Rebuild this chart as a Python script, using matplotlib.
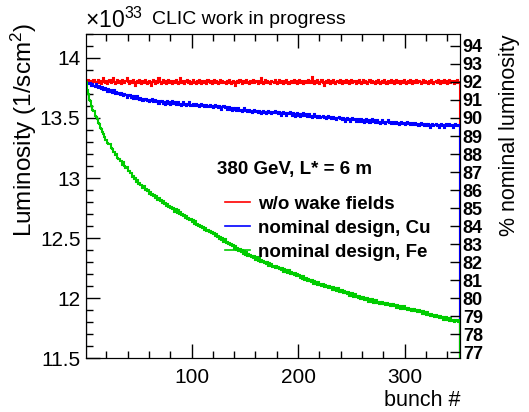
import numpy as np
import matplotlib
matplotlib.use("Agg")
import matplotlib.pyplot as plt

plt.rcParams['font.family'] = ['Liberation Sans', 'DejaVu Sans']
plt.rcParams['mathtext.fontset'] = 'custom'
plt.rcParams['mathtext.rm'] = 'Liberation Sans'
plt.rcParams['mathtext.it'] = 'Liberation Sans:italic'

# --- datos (luminosidad en 1e33 / cm^2 s por bunch)
lumi_wo_wake = [
    13.81, 13.79, 13.82, 13.80, 13.78, 13.81, 13.79, 13.82, 13.80, 13.78,
    13.80, 13.82, 13.79, 13.81, 13.78, 13.80, 13.83, 13.80, 13.79, 13.81,
    13.78, 13.80, 13.82, 13.79, 13.81, 13.83, 13.80, 13.78, 13.80, 13.82,
    13.79, 13.81, 13.80, 13.78, 13.82, 13.80, 13.79, 13.81, 13.83, 13.80,
    13.78, 13.81, 13.79, 13.80, 13.82, 13.79, 13.77, 13.80, 13.81, 13.79,
    13.82, 13.80, 13.78, 13.81, 13.79, 13.82, 13.80, 13.78, 13.80, 13.81,
    13.79, 13.77, 13.80, 13.82, 13.80, 13.78, 13.81, 13.79, 13.83, 13.80,
    13.78, 13.80, 13.82, 13.79, 13.81, 13.78, 13.80, 13.82, 13.79, 13.81,
    13.80, 13.78, 13.81, 13.79, 13.82, 13.80, 13.78, 13.80, 13.83, 13.79,
    13.81, 13.79, 13.78, 13.81, 13.80, 13.82, 13.79, 13.81, 13.78, 13.80,
    13.82, 13.79, 13.80, 13.78, 13.81, 13.79, 13.82, 13.80, 13.78, 13.81,
    13.79, 13.81, 13.80, 13.78, 13.82, 13.80, 13.79, 13.81, 13.78, 13.80,
    13.82, 13.79, 13.81, 13.80, 13.78, 13.80, 13.82, 13.79, 13.81, 13.79,
    13.80, 13.78, 13.81, 13.79, 13.82, 13.80, 13.78, 13.80, 13.81, 13.79,
    13.77, 13.80, 13.81, 13.79, 13.82, 13.80, 13.78, 13.81, 13.79, 13.80,
    13.82, 13.79, 13.80, 13.78, 13.81, 13.79, 13.80, 13.82, 13.79, 13.81,
    13.80, 13.78, 13.81, 13.79, 13.83, 13.80, 13.78, 13.80, 13.82, 13.79,
    13.81, 13.79, 13.80, 13.78, 13.81, 13.80, 13.79, 13.82, 13.80, 13.78,
    13.80, 13.82, 13.79, 13.81, 13.80, 13.78, 13.81, 13.79, 13.82, 13.80,
    13.78, 13.80, 13.81, 13.79, 13.80, 13.82, 13.79, 13.81, 13.78, 13.80,
    13.82, 13.79, 13.81, 13.80, 13.78, 13.81, 13.79, 13.80, 13.82, 13.79,
    13.81, 13.79, 13.84, 13.80, 13.78, 13.81, 13.79, 13.82, 13.80, 13.78,
    13.80, 13.82, 13.79, 13.77, 13.80, 13.81, 13.79, 13.82, 13.80, 13.78,
    13.81, 13.79, 13.82, 13.80, 13.78, 13.80, 13.81, 13.79, 13.82, 13.80,
    13.78, 13.81, 13.79, 13.80, 13.82, 13.79, 13.81, 13.78, 13.80, 13.82,
    13.79, 13.81, 13.80, 13.78, 13.81, 13.79, 13.82, 13.80, 13.78, 13.80,
    13.82, 13.79, 13.81, 13.80, 13.78, 13.80, 13.82, 13.79, 13.81, 13.79,
    13.80, 13.78, 13.81, 13.79, 13.82, 13.80, 13.78, 13.80, 13.81, 13.79,
    13.82, 13.80, 13.78, 13.81, 13.79, 13.80, 13.82, 13.79, 13.81, 13.78,
    13.80, 13.82, 13.79, 13.81, 13.80, 13.78, 13.81, 13.79, 13.82, 13.80,
    13.78, 13.80, 13.81, 13.79, 13.82, 13.80, 13.78, 13.81, 13.79, 13.80,
    13.82, 13.79, 13.81, 13.80, 13.78, 13.80, 13.82, 13.79, 13.81, 13.79,
    13.80, 13.78, 13.81, 13.79, 13.82, 13.80, 13.78, 13.80, 13.81, 13.79,
    13.82, 13.80, 13.78, 13.81, 13.79, 13.80, 13.82, 13.79, 13.81, 13.78,
    13.80, 13.82, 13.79, 13.81, 13.80, 13.78, 13.81, 13.79, 13.82, 13.80, 13.79,
]

lumi_cu = [
    13.80, 13.79, 13.79, 13.78, 13.79, 13.77, 13.78, 13.77, 13.76, 13.78,
    13.76, 13.75, 13.77, 13.75, 13.74, 13.76, 13.73, 13.74, 13.75, 13.73,
    13.72, 13.74, 13.72, 13.73, 13.71, 13.72, 13.73, 13.70, 13.72, 13.71,
    13.70, 13.71, 13.69, 13.71, 13.70, 13.68, 13.70, 13.69, 13.67, 13.69,
    13.68, 13.69, 13.67, 13.68, 13.66, 13.68, 13.67, 13.66, 13.68, 13.66,
    13.65, 13.67, 13.66, 13.64, 13.66, 13.65, 13.66, 13.64, 13.65, 13.63,
    13.65, 13.64, 13.66, 13.63, 13.64, 13.65, 13.63, 13.64, 13.62, 13.64,
    13.63, 13.64, 13.62, 13.63, 13.61, 13.63, 13.64, 13.62, 13.63, 13.61,
    13.62, 13.64, 13.62, 13.63, 13.61, 13.62, 13.63, 13.61, 13.62, 13.60,
    13.62, 13.63, 13.61, 13.62, 13.60, 13.62, 13.61, 13.63, 13.60, 13.61,
    13.62, 13.60, 13.61, 13.62, 13.60, 13.61, 13.59, 13.61, 13.62, 13.60,
    13.61, 13.59, 13.60, 13.61, 13.59, 13.60, 13.61, 13.59, 13.60, 13.58,
    13.60, 13.61, 13.59, 13.60, 13.58, 13.60, 13.59, 13.57, 13.59, 13.60,
    13.58, 13.59, 13.57, 13.58, 13.59, 13.57, 13.58, 13.56, 13.58, 13.57,
    13.58, 13.56, 13.57, 13.58, 13.56, 13.57, 13.55, 13.57, 13.58, 13.56,
    13.57, 13.55, 13.56, 13.57, 13.55, 13.56, 13.54, 13.56, 13.57, 13.55,
    13.56, 13.54, 13.56, 13.55, 13.53, 13.55, 13.56, 13.54, 13.55, 13.53,
    13.55, 13.56, 13.54, 13.55, 13.53, 13.55, 13.54, 13.56, 13.54, 13.55,
    13.53, 13.55, 13.54, 13.52, 13.54, 13.55, 13.53, 13.54, 13.52, 13.54,
    13.53, 13.55, 13.53, 13.52, 13.54, 13.53, 13.51, 13.53, 13.54, 13.52,
    13.53, 13.51, 13.53, 13.52, 13.54, 13.52, 13.53, 13.51, 13.52, 13.53,
    13.51, 13.52, 13.50, 13.52, 13.53, 13.51, 13.52, 13.50, 13.51, 13.52,
    13.50, 13.51, 13.52, 13.50, 13.51, 13.49, 13.51, 13.52, 13.50, 13.51,
    13.49, 13.50, 13.51, 13.49, 13.50, 13.48, 13.50, 13.51, 13.49, 13.50,
    13.48, 13.50, 13.49, 13.47, 13.49, 13.50, 13.48, 13.49, 13.47, 13.49,
    13.50, 13.48, 13.49, 13.47, 13.48, 13.49, 13.47, 13.48, 13.49, 13.47,
    13.48, 13.46, 13.48, 13.49, 13.47, 13.48, 13.46, 13.48, 13.49, 13.47,
    13.48, 13.46, 13.47, 13.48, 13.46, 13.47, 13.45, 13.47, 13.48, 13.46,
    13.47, 13.45, 13.47, 13.48, 13.46, 13.47, 13.45, 13.46, 13.47, 13.45,
    13.46, 13.47, 13.45, 13.46, 13.44, 13.46, 13.47, 13.45, 13.46, 13.44,
    13.46, 13.47, 13.45, 13.46, 13.44, 13.45, 13.46, 13.44, 13.45, 13.46,
    13.44, 13.45, 13.43, 13.45, 13.46, 13.44, 13.45, 13.43, 13.44, 13.45,
    13.43, 13.45, 13.44, 13.42, 13.44, 13.45, 13.43, 13.44, 13.45, 13.43,
    13.44, 13.42, 13.44, 13.45, 13.43, 13.44, 13.42, 13.44, 13.45, 13.43,
    13.44, 13.45, 13.43, 13.44, 13.42, 13.44, 13.45, 13.43, 13.44, 13.43, 13.44,
]

lumi_fe = [
    13.80, 13.73, 13.70, 13.65, 13.64, 13.60, 13.57, 13.56, 13.52, 13.51,
    13.49, 13.46, 13.45, 13.42, 13.41, 13.38, 13.37, 13.34, 13.32, 13.32,
    13.29, 13.28, 13.28, 13.25, 13.24, 13.22, 13.22, 13.19, 13.20, 13.17,
    13.16, 13.16, 13.14, 13.14, 13.11, 13.13, 13.10, 13.08, 13.09, 13.06,
    13.06, 13.04, 13.04, 13.01, 13.02, 12.99, 13.00, 12.97, 12.98, 12.95,
    12.96, 12.94, 12.94, 12.92, 12.93, 12.90, 12.91, 12.89, 12.90, 12.87,
    12.88, 12.86, 12.87, 12.85, 12.86, 12.83, 12.85, 12.82, 12.83, 12.81,
    12.82, 12.79, 12.81, 12.78, 12.79, 12.77, 12.78, 12.76, 12.77, 12.75,
    12.76, 12.74, 12.75, 12.72, 12.74, 12.71, 12.73, 12.70, 12.72, 12.69,
    12.70, 12.68, 12.69, 12.67, 12.68, 12.66, 12.67, 12.65, 12.66, 12.63,
    12.65, 12.62, 12.64, 12.61, 12.62, 12.60, 12.61, 12.59, 12.60, 12.58,
    12.59, 12.57, 12.58, 12.56, 12.57, 12.55, 12.56, 12.54, 12.55, 12.53,
    12.54, 12.52, 12.53, 12.51, 12.52, 12.49, 12.51, 12.48, 12.50, 12.47,
    12.49, 12.46, 12.47, 12.45, 12.46, 12.44, 12.45, 12.43, 12.44, 12.41,
    12.43, 12.40, 12.42, 12.39, 12.41, 12.38, 12.40, 12.37, 12.39, 12.36,
    12.38, 12.35, 12.37, 12.35, 12.36, 12.34, 12.35, 12.33, 12.35, 12.32,
    12.34, 12.31, 12.33, 12.30, 12.32, 12.30, 12.31, 12.29, 12.30, 12.28,
    12.30, 12.27, 12.29, 12.27, 12.28, 12.26, 12.27, 12.25, 12.27, 12.25,
    12.26, 12.24, 12.25, 12.23, 12.25, 12.22, 12.24, 12.22, 12.23, 12.21,
    12.23, 12.20, 12.22, 12.20, 12.21, 12.19, 12.21, 12.18, 12.20, 12.18,
    12.19, 12.17, 12.18, 12.16, 12.18, 12.15, 12.17, 12.14, 12.16, 12.14,
    12.15, 12.13, 12.15, 12.12, 12.14, 12.12, 12.13, 12.11, 12.13, 12.11,
    12.12, 12.10, 12.12, 12.09, 12.11, 12.09, 12.10, 12.08, 12.10, 12.08,
    12.09, 12.07, 12.09, 12.07, 12.08, 12.06, 12.08, 12.05, 12.07, 12.05,
    12.07, 12.04, 12.06, 12.04, 12.05, 12.03, 12.05, 12.02, 12.04, 12.02,
    12.04, 12.01, 12.03, 12.01, 12.02, 12.00, 12.02, 11.99, 12.01, 11.99,
    12.01, 11.98, 12.00, 11.98, 12.00, 11.97, 11.99, 11.97, 11.99, 11.96,
    11.98, 11.96, 11.98, 11.96, 11.97, 11.95, 11.97, 11.95, 11.97, 11.95,
    11.96, 11.94, 11.96, 11.94, 11.95, 11.93, 11.95, 11.93, 11.95, 11.93,
    11.94, 11.92, 11.94, 11.92, 11.93, 11.91, 11.93, 11.91, 11.93, 11.91,
    11.92, 11.90, 11.92, 11.90, 11.91, 11.89, 11.91, 11.89, 11.91, 11.89,
    11.90, 11.88, 11.90, 11.88, 11.89, 11.87, 11.89, 11.87, 11.88, 11.86,
    11.88, 11.86, 11.87, 11.85, 11.87, 11.85, 11.86, 11.84, 11.86, 11.84,
    11.85, 11.83, 11.85, 11.83, 11.84, 11.82, 11.84, 11.82, 11.84, 11.82,
    11.83, 11.81, 11.83, 11.81, 11.82, 11.80, 11.82, 11.81, 11.82, 11.80, 11.82,
]

series_labels = ["w/o wake fields", "nominal design, Cu", "nominal design, Fe"]
series_colors = ["#ff0000", "#0000ff", "#00cc00"]
lumi_nominal = 15.0  # 100 % en unidades de 1e33

y_ticks = [11.5, 12, 12.5, 13, 13.5, 14]
y_ticklabels = ["11.5", "12", "12.5", "13", "13.5", "14"]
x_ticks = [100, 200, 300]
pct_ticks = list(range(77, 95))

# --- figura
fig = plt.figure(figsize=(5.29, 4.12), dpi=100)
ax = fig.add_axes([0.1626, 0.131, 0.707, 0.7865])

edges = np.arange(1, len(lumi_fe) + 2)
for vals, lab, col in zip([lumi_wo_wake, lumi_cu, lumi_fe], series_labels, series_colors):
    ax.stairs(vals, edges, baseline=0, color=col, lw=1.5, label=lab, zorder=3)

ax.set_xlim(1, 352)
ax.set_ylim(11.5, 14.2)
ax.set_yticks(y_ticks)
ax.set_yticklabels(y_ticklabels)
ax.set_yticks(np.arange(11.5, 14.21, 0.1), minor=True)
ax.set_xticks(x_ticks)
ax.set_xticks(np.arange(20, 352, 20), minor=True)
ax.tick_params(axis='both', which='both', direction='in', labelsize=15)
ax.tick_params(axis='x', which='both', top=True, pad=7)
ax.tick_params(axis='y', which='both', right=False, pad=4)
ax.tick_params(which='major', length=10, width=1)
ax.tick_params(which='minor', length=5, width=1)

# eje derecho en % de la luminosidad nominal
ax2 = ax.twinx()
ax2.set_ylim(11.5 / lumi_nominal * 100, 14.2 / lumi_nominal * 100)
ax2.set_yticks(pct_ticks, labels=[str(p) for p in pct_ticks],
               fontweight='bold', fontsize=13,
               family=['Liberation Sans Narrow', 'Liberation Sans'])
ax2.tick_params(axis='y', direction='in', length=7, width=1, pad=2)

# --- textos
fig.text(24 / 529, 1 - 23 / 412, "Luminosity (1/scm$^2$)", rotation=90,
         ha='center', va='top', fontsize=17.5)
fig.text(510 / 529, 1 - 35 / 412, "% nominal luminosity", rotation=90,
         ha='center', va='top', fontsize=15.5)
fig.text(85 / 529, 1 - 20 / 412, r"$\times10^{33}$", ha='left', va='center', fontsize=16.5)
fig.text(152 / 529, 1 - 19 / 412, "CLIC work in progress", ha='left', va='center', fontsize=14)
fig.text(460 / 529, 1 - 400 / 412, "bunch #", ha='right', va='center', fontsize=15.5)

ax.text(0.35, 0.583, "380 GeV, L* = 6 m", transform=ax.transAxes,
        fontsize=13.5, fontweight='bold', ha='left', va='center')
leg = ax.legend(loc='upper left', bbox_to_anchor=(0.352, 0.525), frameon=False,
                prop={'weight': 'bold', 'size': 13.5}, handlelength=1.3,
                handletextpad=0.45, labelspacing=0.38, borderaxespad=0)
for h in leg.get_lines():
    h.set_linewidth(1.2)

fig.savefig("out.png", dpi=100)
